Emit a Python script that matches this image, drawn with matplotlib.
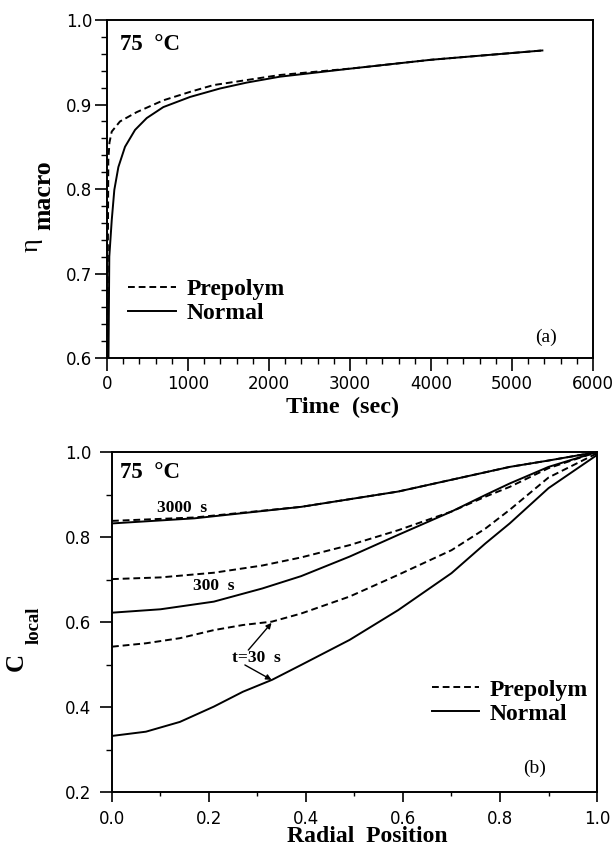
import numpy as np
import matplotlib
matplotlib.use('Agg')
import matplotlib.pyplot as plt

plt.rcParams['font.family'] = 'DejaVu Sans'

serif = 'Liberation Serif'

# (a) macro conversion vs time, 75 C
t_norm = [18, 28, 58, 90, 140, 222, 346, 490, 695, 1025, 1395, 1725, 2136, 3050, 4000, 5375]
eta_norm = [0.60, 0.72, 0.763, 0.799, 0.826, 0.850, 0.870, 0.884, 0.897, 0.909, 0.919, 0.926, 0.933, 0.943, 0.953, 0.964]
t_pre = [5, 10, 16, 30, 58, 160, 366, 695, 1025, 1312, 1725, 2136, 3050, 4000, 5375]
eta_pre = [0.60, 0.72, 0.834, 0.855, 0.868, 0.880, 0.891, 0.905, 0.915, 0.923, 0.929, 0.935, 0.943, 0.953, 0.964]

# (b) local conversion vs radial position
r_3000 = [0.0, 0.17, 0.39, 0.59, 0.82, 0.90, 1.0]
c_norm_3000 = [0.832, 0.844, 0.871, 0.907, 0.965, 0.980, 1.0]
c_pre_3000 = [0.838, 0.846, 0.871, 0.907, 0.965, 0.980, 1.0]

r_300 = [0.0, 0.10, 0.21, 0.31, 0.39, 0.49, 0.59, 0.70, 0.77, 0.82, 0.90, 1.0]
c_norm_300 = [0.622, 0.630, 0.648, 0.679, 0.708, 0.754, 0.805, 0.860, 0.899, 0.926, 0.965, 1.0]
c_pre_300 = [0.701, 0.705, 0.716, 0.733, 0.752, 0.781, 0.816, 0.860, 0.895, 0.918, 0.962, 1.0]

r_30 = [0.0, 0.07, 0.14, 0.21, 0.27, 0.33, 0.39, 0.49, 0.59, 0.70, 0.77, 0.82, 0.90, 1.0]
c_norm_30 = [0.332, 0.342, 0.365, 0.401, 0.436, 0.464, 0.499, 0.558, 0.628, 0.715, 0.785, 0.832, 0.915, 0.993]
c_pre_30 = [0.542, 0.550, 0.562, 0.581, 0.593, 0.601, 0.620, 0.660, 0.711, 0.769, 0.820, 0.864, 0.940, 0.997]

fig = plt.figure(figsize=(6.13, 8.5), dpi=100)
ax1 = fig.add_axes([0.1746, 0.5788, 0.7928, 0.3976])
ax2 = fig.add_axes([0.1827, 0.0682, 0.7912, 0.4])

dash = (0, (3.5, 2))

for ax in (ax1, ax2):
    for s in ax.spines.values():
        s.set_linewidth(1.4)
    ax.tick_params(which='major', direction='out', length=9, width=1.2, labelsize=12)
    ax.tick_params(which='minor', direction='out', length=4.5, width=1.0)
ax1.tick_params(axis='x', which='major', pad=3)
ax1.tick_params(axis='y', which='major', pad=1.5)
ax2.tick_params(axis='x', which='major', length=7, pad=6)
ax2.tick_params(axis='x', which='minor', length=3)
ax2.tick_params(axis='y', which='major', pad=6)

# panel (a)
ax1.plot(t_pre, eta_pre, color='black', lw=1.4, ls=dash, label='Prepolym')
ax1.plot(t_norm, eta_norm, color='black', lw=1.4, label='Normal')
ax1.set_xlim(0, 6000)
ax1.set_ylim(0.6, 1.0)
ax1.set_xticks(np.arange(0, 6001, 1000))
ax1.set_xticks(np.arange(0, 6001, 200), minor=True)
ax1.set_yticks([0.6, 0.7, 0.8, 0.9, 1.0])
ax1.set_yticks(np.arange(0.6, 1.001, 0.02), minor=True)
ax1.text(0.484, -0.163, 'Time  (sec)', transform=ax1.transAxes, ha='center', va='baseline',
         family=serif, weight='bold', fontsize=17.5)
fig.text(0.0522, 0.712, 'η', rotation=90, ha='center', va='center', family=serif, fontsize=19)
fig.text(0.0718, 0.7706, 'macro', rotation=90, ha='center', va='center', family=serif,
         weight='bold', fontsize=18.5)
ax1.text(0.027, 0.911, '75  °C', transform=ax1.transAxes, va='baseline', family=serif,
         weight='bold', fontsize=16.5)
ax1.text(0.88, 0.047, '(a)', transform=ax1.transAxes, va='baseline', family=serif, fontsize=14)
ax1.legend(loc='upper left', bbox_to_anchor=(0.044, 0.235), frameon=False, borderpad=0,
           borderaxespad=0, handlelength=2.0, handletextpad=0.45, labelspacing=0.1,
           prop={'family': serif, 'weight': 'bold', 'size': 17})

# panel (b)
ax2.plot(r_3000, c_pre_3000, color='black', lw=1.4, ls=dash, label='Prepolym')
ax2.plot(r_3000, c_norm_3000, color='black', lw=1.4, label='Normal')
ax2.plot(r_300, c_pre_300, color='black', lw=1.4, ls=dash)
ax2.plot(r_300, c_norm_300, color='black', lw=1.4)
ax2.plot(r_30, c_pre_30, color='black', lw=1.4, ls=dash)
ax2.plot(r_30, c_norm_30, color='black', lw=1.4)
ax2.set_xlim(0, 1.0)
ax2.set_ylim(0.2, 1.0)
ax2.set_xticks([0.0, 0.2, 0.4, 0.6, 0.8, 1.0])
ax2.set_xticks(np.arange(0, 1.001, 0.1), minor=True)
ax2.set_yticks([0.2, 0.4, 0.6, 0.8, 1.0])
ax2.set_yticks(np.arange(0.2, 1.001, 0.1), minor=True)
ax2.text(0.526, -0.148, 'Radial  Position', transform=ax2.transAxes, ha='center', va='baseline',
         family=serif, weight='bold', fontsize=17)
fig.text(0.026, 0.2212, 'C', rotation=90, ha='center', va='center', family=serif,
         weight='bold', fontsize=18)
fig.text(0.0555, 0.2647, 'local', rotation=90, ha='center', va='center', family=serif,
         weight='bold', fontsize=13.5)
ax2.text(0.016, 0.924, '75  °C', transform=ax2.transAxes, va='baseline', family=serif,
         weight='bold', fontsize=16.5)
ax2.text(0.847, 0.056, '(b)', transform=ax2.transAxes, va='baseline', family=serif, fontsize=14)
ax2.text(0.092, 0.860, '3000  s', va='baseline', family=serif, weight='bold', fontsize=12.5)
ax2.text(0.167, 0.675, '300  s', va='baseline', family=serif, weight='bold', fontsize=12.5)
ax2.text(0.247, 0.507, 't=30  s', va='baseline', family=serif, weight='bold', fontsize=12.5)
ax2.annotate('', xy=(0.329, 0.598), xytext=(0.281, 0.534),
             arrowprops=dict(arrowstyle='-|>', color='black', lw=1.0, mutation_scale=8,
                             shrinkA=0, shrinkB=0))
ax2.annotate('', xy=(0.329, 0.464), xytext=(0.274, 0.499),
             arrowprops=dict(arrowstyle='-|>', color='black', lw=1.0, mutation_scale=8,
                             shrinkA=0, shrinkB=0))
ax2.legend(loc='upper left', bbox_to_anchor=(0.66, 0.332), frameon=False, borderpad=0,
           borderaxespad=0, handlelength=2.0, handletextpad=0.45, labelspacing=0.1,
           prop={'family': serif, 'weight': 'bold', 'size': 17})

fig.savefig('out.png', dpi=100)
